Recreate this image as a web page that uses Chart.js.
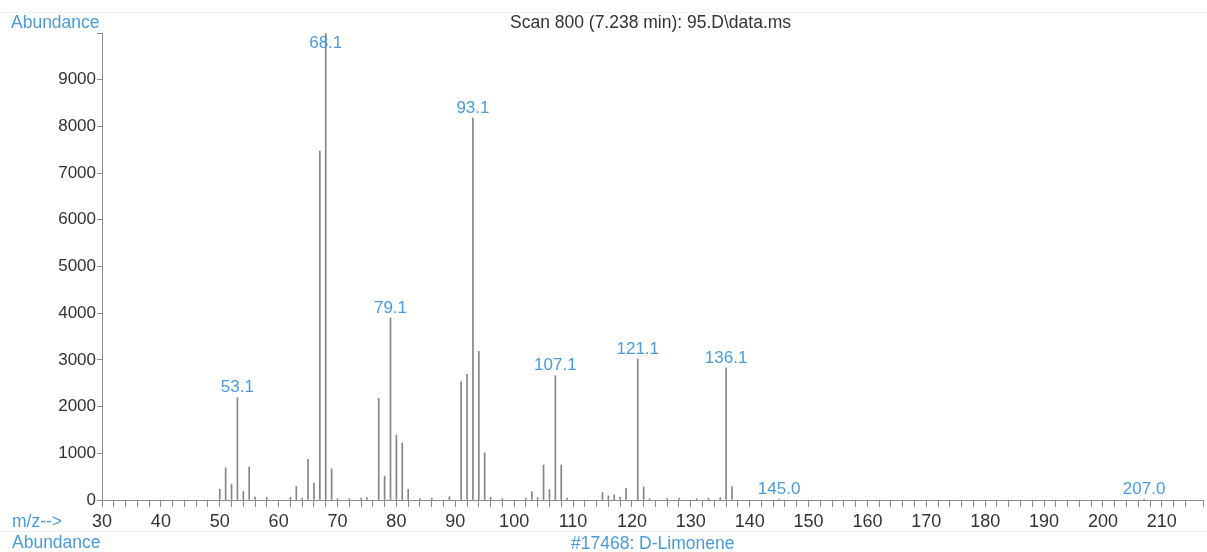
<!DOCTYPE html>
<html>
<head>
<meta charset="utf-8">
<script src="https://cdn.jsdelivr.net/npm/chart.js@4.4.1/dist/chart.umd.min.js"></script>
<style>
  html, body { margin: 0; padding: 0; background: #fff; }
  #wrap { position: relative; width: 1207px; height: 552px; font-family: "Liberation Sans", Arial, sans-serif; }
  #spectrum { position: absolute; left: 0; top: 0; }
  .txt { position: absolute; font-size: 17.5px; line-height: 20px; white-space: nowrap; }
  .blue { color: #4b9ad8; }
  .dark { color: #333; }
  .rule { position: absolute; left: 0; width: 1207px; height: 1px; background: #eef2f6; }
</style>
</head>
<body>
<div id="wrap">
  <canvas id="spectrum" width="1207" height="552"></canvas>
  <div class="rule" style="top:12px"></div>
  <div class="rule" style="top:531px"></div>
  <div class="txt blue" style="left:11px; top:12px">Abundance</div>
  <div class="txt dark" style="left:510px; top:12px">Scan 800 (7.238 min): 95.D\data.ms</div>
  <div class="txt blue" style="left:12px; top:511px">m/z--&gt;</div>
  <div class="txt blue" style="left:12px; top:532px">Abundance</div>
  <div class="txt blue" style="left:571px; top:533px">#17468: D-Limonene</div>
</div>
<script>
// m/z values and their abundances
const mzValues = [50, 51, 52, 53, 54, 55, 56, 58, 62, 63, 64, 65, 66, 67, 68, 69, 70, 72, 74, 75,
  77, 78, 79, 80, 81, 82, 84, 86, 89, 91, 92, 93, 94, 95, 96, 98, 102, 103, 104, 105,
  106, 107, 108, 109, 115, 116, 117, 118, 119, 121, 122, 123, 126, 128, 131, 133, 135, 136, 137, 145, 207];
const abundances = [230, 690, 340, 2190, 180, 710, 60, 50, 60, 290, 40, 870, 360, 7470, 9990, 670, 30, 30, 40, 50,
  2180, 510, 3900, 1390, 1220, 230, 30, 40, 70, 2530, 2690, 8180, 3180, 1010, 60, 30, 40, 180, 50, 750,
  220, 2660, 750, 40, 160, 90, 110, 60, 250, 3020, 280, 30, 30, 40, 30, 40, 50, 2830, 290, 20, 20];

// labelled peaks
const peakMz = [53, 68, 79, 93, 107, 121, 136, 145, 207];
const peakLabels = ['53.1', '68.1', '79.1', '93.1', '107.1', '121.1', '136.1', '145.0', '207.0'];

const xMin = 30, xMax = 217;
const yMax = 10000;

const points = mzValues.map((mz, i) => ({ x: mz, y: abundances[i] }));

// draws the blue m/z labels above the labelled peaks
const peakLabelPlugin = {
  id: 'peakLabels',
  afterDatasetsDraw(chart) {
    const ctx = chart.ctx;
    const xs = chart.scales.x;
    const ys = chart.scales.y;
    ctx.save();
    ctx.font = '17px "Liberation Sans", Arial, sans-serif';
    ctx.fillStyle = '#4b9ad8';
    ctx.textAlign = 'center';
    ctx.textBaseline = 'middle';
    peakMz.forEach((mz, i) => {
      const idx = mzValues.indexOf(mz);
      const px = xs.getPixelForValue(mz);
      const py = ys.getPixelForValue(abundances[idx]);
      const cy = Math.max(py - 10, chart.chartArea.top + 10);
      ctx.fillText(peakLabels[i], px, cy);
    });
    ctx.restore();
  }
};

const ctx = document.getElementById('spectrum').getContext('2d');
new Chart(ctx, {
  type: 'bar',
  data: {
    datasets: [{
      data: points,
      backgroundColor: '#858585',
      borderWidth: 0,
      barThickness: 1
    }]
  },
  options: {
    responsive: false,
    animation: false,
    layout: { padding: { top: 33, right: 2, left: 0, bottom: 0 } },
    plugins: {
      legend: { display: false },
      tooltip: { enabled: false }
    },
    scales: {
      x: {
        type: 'linear',
        offset: false,
        min: xMin,
        max: xMax,
        afterFit: scale => { scale.height = 52; },
        border: { color: '#8c8c8c' },
        grid: { offset: false, drawOnChartArea: false, tickLength: 7, color: '#8c8c8c' },
        ticks: {
          stepSize: 2,
          maxTicksLimit: 200,
          autoSkip: false,
          maxRotation: 0,
          padding: 4,
          color: '#333',
          font: { size: 18, family: '"Liberation Sans", Arial, sans-serif' },
          callback: v => (v % 10 === 0 ? v : '')
        }
      },
      y: {
        min: 0,
        max: yMax,
        afterFit: scale => { scale.width = 102; },
        border: { color: '#8c8c8c' },
        grid: { drawOnChartArea: false, tickLength: 5, color: '#8c8c8c' },
        ticks: {
          stepSize: 1000,
          padding: 1,
          color: '#333',
          font: { size: 17, family: '"Liberation Sans", Arial, sans-serif' },
          callback: v => (v <= 9000 ? v : '')
        }
      }
    }
  },
  plugins: [peakLabelPlugin]
});
</script>
</body>
</html>
